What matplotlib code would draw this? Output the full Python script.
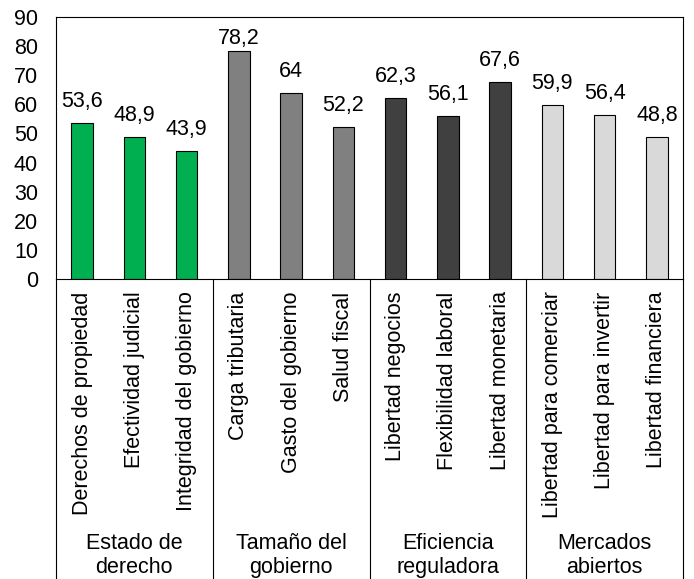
import matplotlib
matplotlib.use("Agg")
import matplotlib.pyplot as plt
from matplotlib.transforms import blended_transform_factory

# data
categories = [
    "Derechos de propiedad", "Efectividad judicial", "Integridad del gobierno",
    "Carga tributaria", "Gasto del gobierno", "Salud fiscal",
    "Libertad negocios", "Flexibilidad laboral", "Libertad monetaria",
    "Libertad para comerciar", "Libertad para invertir", "Libertad financiera",
]
values = [53.6, 48.9, 43.9, 78.2, 64, 52.2, 62.3, 56.1, 67.6, 59.9, 56.4, 48.8]
groups = ["Estado de\nderecho", "Tamaño del\ngobierno", "Eficiencia\nreguladora", "Mercados\nabiertos"]
group_colors = ["#00B050", "#808080", "#404040", "#D9D9D9"]

plt.rcParams["font.family"] = ["Liberation Sans", "DejaVu Sans"]
FS = 15.5
YMAX = 90

W, H = 694, 579
ax_h = 279 - 17
fig = plt.figure(figsize=(W / 100, H / 100), dpi=100)
ax = fig.add_axes([56 / W, 1 - 279 / H, (683 - 56) / W, ax_h / H])

colors = [group_colors[i // 3] for i in range(len(values))]
x = list(range(len(values)))
ax.bar(x, values, width=0.41, color=colors, edgecolor="black", linewidth=0.8)

# labels sit above the bars, pushed down when they would leave the plot area
for xi, v in zip(x, values):
    label = f"{v:g}".replace(".", ",")
    room = (YMAX - v) * ax_h / YMAX
    off_px = min(16, room - 27)
    ax.annotate(label, (xi, v), xytext=(0, off_px * 0.72), textcoords="offset points",
                ha="center", va="baseline", fontsize=FS)

ax.set_xlim(-0.5, len(values) - 0.5)
ax.set_ylim(0, YMAX)
ax.set_yticks(range(0, 91, 10))
ax.tick_params(axis="y", length=0, pad=13, labelsize=FS)
ax.set_xticks(x)
ax.set_xticklabels(categories, rotation=90, fontsize=FS)
ax.tick_params(axis="x", length=0, pad=9)

for s in ax.spines.values():
    s.set_linewidth(0.8)

# group separators and labels below the axis
trans = blended_transform_factory(ax.transData, ax.transAxes)
for b in [-0.5, 2.5, 5.5, 8.5, 11.5]:
    ax.plot([b, b], [0, -1.3], transform=trans, color="black", linewidth=0.8, clip_on=False)
for i, g in enumerate(groups):
    ax.text(i * 3 + 1, -254 / 262, g, transform=trans, ha="center", va="top",
            fontsize=FS, linespacing=1.2)

fig.savefig("out.png", dpi=100)
